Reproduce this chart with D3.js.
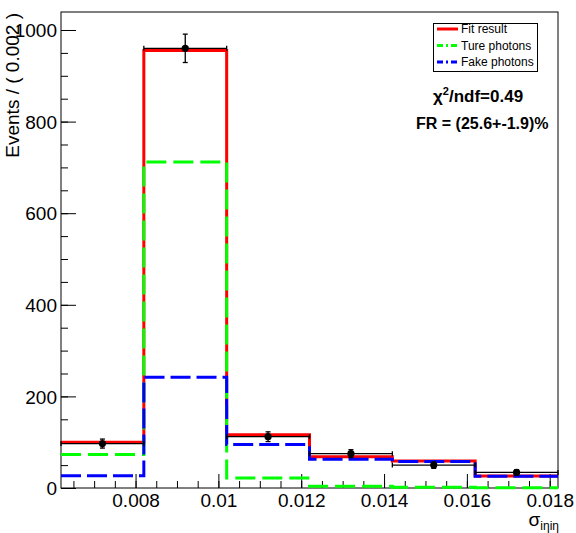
<!DOCTYPE html>
<html>
<head>
<meta charset="utf-8">
<script src="https://cdn.jsdelivr.net/npm/d3@7/dist/d3.min.js"></script>
<style>
  html, body { margin: 0; padding: 0; background: #fff; }
  svg { display: block; font-family: "Liberation Sans", Arial, Helvetica, sans-serif; }
</style>
</head>
<body>
<svg id="chart" width="576" height="533"></svg>
<script>
// ---- data ----
const binEdges = [0.0062, 0.0082, 0.0102, 0.0122, 0.0142, 0.0162, 0.0182];
const fitResult = [100, 955, 116, 68, 59, 26];
const truePhotons = [73, 712, 22, 4, 1.5, 0.5];
const fakePhotons = [27, 242, 95, 63, 58, 25.5];
const dataCounts = [97, 960, 112, 75, 50, 34];
const xTickValues = [0.008, 0.01, 0.012, 0.014, 0.016, 0.018];
const xTickLabels = ["0.008", "0.01", "0.012", "0.014", "0.016", "0.018"];
const yTickValues = [0, 200, 400, 600, 800, 1000];
const legendLabels = ["Fit result", "Ture photons", "Fake photons"];
const chiText = "/ndf=0.49";
const frText = "FR = (25.6+-1.9)%";

// ---- layout ----
const svg = d3.select("#chart");
const L = 61, R = 558, T = 12, B = 488;
const x = d3.scaleLinear().domain([0.0062, 0.0182]).range([L, R]);
const y = d3.scaleLinear().domain([0, 1039.3]).range([B, T]);

// frame
svg.append("rect").attr("x", L).attr("y", T).attr("width", R - L).attr("height", B - T)
  .attr("fill", "#fff").attr("stroke", "#000").attr("stroke-width", 1);

// axes
const xAxisMinor = d3.axisBottom(x).tickValues(d3.range(0, 25).map(i => 0.0065 + i * 0.0005).filter(v => v <= 0.0182))
  .tickSize(-7).tickFormat("");
const xAxisMajor = d3.axisBottom(x).tickValues(xTickValues).tickSize(-14).tickFormat((d, i) => xTickLabels[i]);
const gxm = svg.append("g").attr("transform", `translate(0,${B})`).call(xAxisMinor);
const gx = svg.append("g").attr("transform", `translate(0,${B})`).call(xAxisMajor);
[gxm, gx].forEach(g => { g.select(".domain").remove(); g.selectAll("line").attr("stroke", "#000"); });
gx.selectAll("text").attr("font-size", 19).attr("fill", "#000").attr("y", 19).attr("dy", 0)
  .style("font-family", "'Liberation Sans', Arial, sans-serif");

const yMinorVals = d3.range(0, 1040, 50);
const yAxisMinor = d3.axisLeft(y).tickValues(yMinorVals).tickSize(-7).tickFormat("");
const yAxisMajor = d3.axisLeft(y).tickValues(yTickValues).tickSize(-15).tickFormat(d3.format("d"));
const gym = svg.append("g").attr("transform", `translate(${L},0)`).call(yAxisMinor);
const gy = svg.append("g").attr("transform", `translate(${L},0)`).call(yAxisMajor);
[gym, gy].forEach(g => { g.select(".domain").remove(); g.selectAll("line").attr("stroke", "#000"); });
gy.selectAll("text").attr("font-size", 19).attr("fill", "#000").attr("x", -4).attr("dy", "0.35em")
  .style("font-family", "'Liberation Sans', Arial, sans-serif");

// y title
svg.append("text").attr("transform", "translate(19,13) rotate(-90)")
  .attr("text-anchor", "end").attr("font-size", 19).text("Events / ( 0.002 )");

// x title
const xt = svg.append("text").attr("x", R + 1).attr("y", 526).attr("text-anchor", "end");
xt.append("tspan").attr("font-size", 19).text("σ");
xt.append("tspan").attr("font-size", 12).attr("dy", 4).text("iηiη");

// step curves
function stepPath(vals) {
  const p = d3.path();
  vals.forEach((v, i) => {
    if (i === 0) p.moveTo(x(binEdges[0]), y(v));
    else p.lineTo(x(binEdges[i]), y(v));
    p.lineTo(x(binEdges[i + 1]), y(v));
  });
  return p.toString();
}
const curves = [
  { vals: fitResult, color: "#ff0000", dash: null },
  { vals: truePhotons, color: "#00ff00", dash: "20 7" },
  { vals: fakePhotons, color: "#0000ff", dash: "20 6" }
];
curves.forEach(c => {
  svg.append("path").attr("d", stepPath(c.vals)).attr("fill", "none")
    .attr("stroke", c.color).attr("stroke-width", 3)
    .attr("stroke-dasharray", c.dash);
});

// data points
const gData = svg.append("g").attr("stroke", "#000").attr("stroke-width", 1.3);
dataCounts.forEach((n, i) => {
  const cx = x((binEdges[i] + binEdges[i + 1]) / 2);
  const e = Math.sqrt(n);
  const x0 = x(binEdges[i]), x1 = x(binEdges[i + 1]);
  const yc = y(n), yt = y(n + e), yb = y(n - e);
  gData.append("line").attr("x1", x0).attr("x2", x1).attr("y1", yc).attr("y2", yc);
  gData.append("line").attr("x1", x0).attr("x2", x0).attr("y1", yc - 2.5).attr("y2", yc + 2.5);
  gData.append("line").attr("x1", x1).attr("x2", x1).attr("y1", yc - 2.5).attr("y2", yc + 2.5);
  gData.append("line").attr("x1", cx).attr("x2", cx).attr("y1", yt).attr("y2", yb);
  gData.append("line").attr("x1", cx - 2.5).attr("x2", cx + 2.5).attr("y1", yt).attr("y2", yt);
  gData.append("line").attr("x1", cx - 2.5).attr("x2", cx + 2.5).attr("y1", yb).attr("y2", yb);
  svg.append("circle").attr("cx", cx).attr("cy", yc).attr("r", 3.6).attr("fill", "#000");
});

// legend
const lg = svg.append("g");
lg.append("rect").attr("x", 433.5).attr("y", 23.5).attr("width", 104).attr("height", 48)
  .attr("fill", "#fff").attr("stroke", "#000").attr("stroke-width", 1);
const legColors = ["#ff0000", "#00ff00", "#0000ff"];
const legDash = [null, "6 3 2 3", "6 3 2 3"];
legendLabels.forEach((lab, i) => {
  const yy = 29 + i * 16.5;
  lg.append("line").attr("x1", 437).attr("x2", 458).attr("y1", yy).attr("y2", yy)
    .attr("stroke", legColors[i]).attr("stroke-width", 3).attr("stroke-dasharray", legDash[i]);
  lg.append("text").attr("x", 461).attr("y", yy).attr("dy", "0.36em").attr("font-size", 12).text(lab);
});

// annotations
const chi = svg.append("text").attr("x", 433).attr("y", 102).attr("font-size", 17).attr("font-weight", "bold");
chi.append("tspan").text("χ");
chi.append("tspan").attr("font-size", 11).attr("dy", -7).text("2");
chi.append("tspan").attr("dy", 7).text(chiText);
svg.append("text").attr("x", 416).attr("y", 129).attr("font-size", 16).attr("font-weight", "bold").text(frText);
</script>
</body>
</html>
